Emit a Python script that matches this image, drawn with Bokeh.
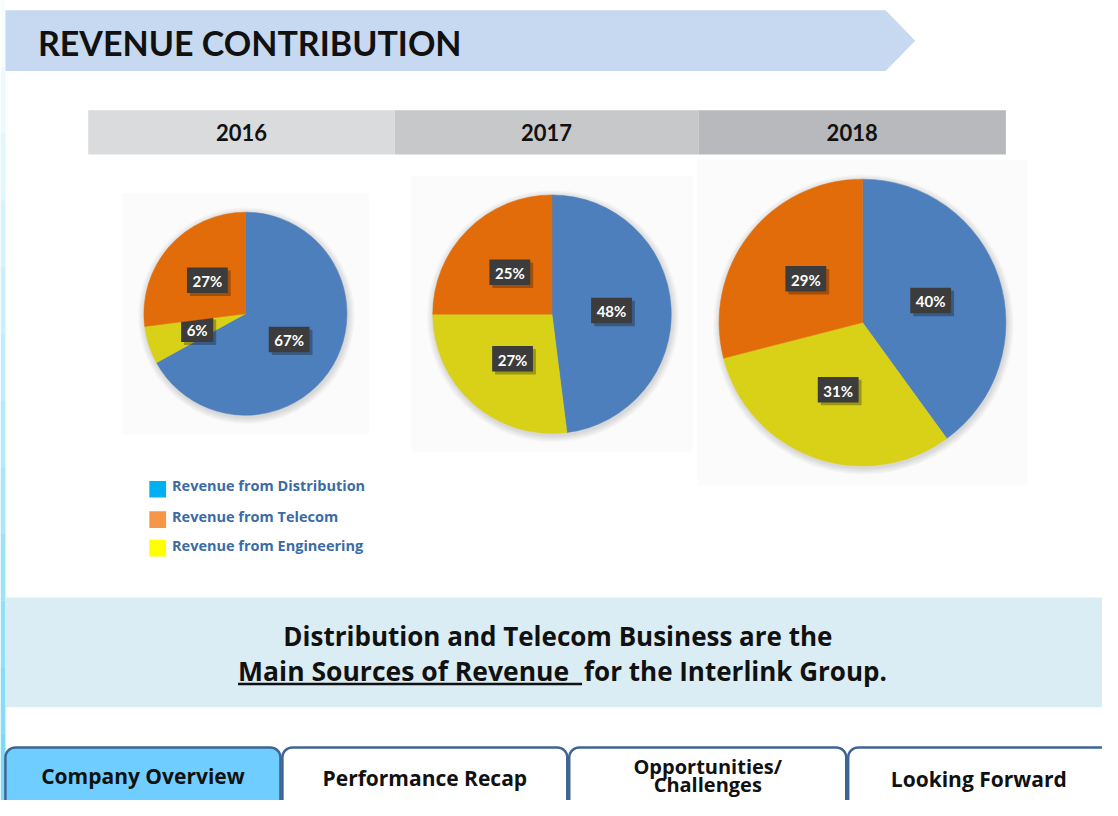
import numpy as np
from bokeh.plotting import figure
from bokeh.models import Range1d
from bokeh.embed import file_html
from bokeh.resources import INLINE
from bokeh.core.properties import value

# ---------------- data ----------------
years = ["2016", "2017", "2018"]
legend_labels = ["Revenue from  Distribution", "Revenue from Telecom", "Revenue from Engineering"]
# slices run clockwise from 12 o'clock: Distribution, Engineering, Telecom
distribution = [67, 48, 40]
engineering = [6, 27, 31]
telecom = [27, 25, 29]
slice_names = ["Distribution", "Engineering", "Telecom"]
headline_1 = "Distribution and Telecom Business are the"
headline_2a = "Main Sources of Revenue "
headline_2b = "for the Interlink Group."
tabs = ["Company Overview", "Performance Recap", "Opportunities/\nChallenges", "Looking Forward"]

# ---------------- styles / layout ----------------
pie_colors = {"Distribution": "#4D7FBC", "Engineering": "#D9D118", "Telecom": "#E36C0A"}
legend_colors = ["#00B0F0", "#F79646", "#FFFF00"]
pie_layout = [(248.5, 319.5, 103.0), (559.5, 320.0, 121.0), (874.5, 328.5, 145.5)]
year_bands = [(89, 400, "#DADBDD"), (400, 708, "#C7C8CA"), (708, 1020, "#B8B9BC")]
TITLE_FONT = "Lato"
FONT = "Open Sans"

p = figure(width=1102, height=800, x_range=Range1d(0, 1118), y_range=Range1d(816, 0),
           output_backend="svg", toolbar_location=None, min_border=0,
           x_axis_type=None, y_axis_type=None)
p.grid.visible = False
p.outline_line_color = None
p.background_fill_color = "white"
p.border_fill_color = "white"

def label(x, y, s, size, color="#111111", align="center", font=FONT):
    p.text([x], [y], text=[s], text_font=value(font), text_font_style="bold",
           text_font_size=size, text_color=color, text_align=align, text_baseline="middle")

# ---- left decorative strip ----
for k in range(12):
    p.quad(left=[0], right=[5], top=[k * 68], bottom=[(k + 1) * 68], line_color=None,
           fill_color="#5FD2F2", fill_alpha=0.05 + 0.07 * k)

# ---- header arrow band ----
p.patch([5, 898, 928, 898, 5], [10, 10, 41, 72, 72], fill_color="#C6D9F0", line_color=None)
label(38, 43, "REVENUE CONTRIBUTION", "34px", align="left", font=TITLE_FONT)

# ---- year header bars ----
for (x0, x1, c), yr in zip(year_bands, years):
    p.quad(left=[x0], right=[x1], top=[112], bottom=[157], fill_color=c, line_color=None)
    label((x0 + x1) / 2, 135, yr, "22px", font=TITLE_FONT)

# ---- pies ----
for i, (cx, cy, r) in enumerate(pie_layout):
    p.quad(left=[cx - r - 22], right=[cx + r + 22], top=[cy - r - 20], bottom=[cy + r + 20],
           fill_color="#F4F4F4", fill_alpha=0.4, line_color=None)
    for k in range(1, 8):
        p.circle([cx + 1], [cy + 2], radius=r + k, fill_color="black", fill_alpha=0.018, line_color=None)
    vals = [distribution[i], engineering[i], telecom[i]]
    total = float(sum(vals))
    cum = 0.0
    for name, v in zip(slice_names, vals):
        a0 = np.pi / 2 - 2 * np.pi * cum / total
        a1 = np.pi / 2 - 2 * np.pi * (cum + v) / total
        p.wedge([cx], [cy], radius=r, start_angle=a0, end_angle=a1, direction="clock",
                fill_color=pie_colors[name], line_color=pie_colors[name], line_width=0.5)
        am = np.pi / 2 - 2 * np.pi * (cum + v / 2) / total
        lx = cx + 0.5 * r * np.cos(am)
        ly = cy - 0.5 * r * np.sin(am)
        txt = f"{v}%"
        w = 15 + 8.8 * len(txt)
        p.quad(left=[lx - w / 2 + 3], right=[lx + w / 2 + 3], top=[ly - 13 + 3], bottom=[ly + 13 + 3],
               fill_color="black", fill_alpha=0.28, line_color=None)
        p.quad(left=[lx - w / 2], right=[lx + w / 2], top=[ly - 13], bottom=[ly + 13],
               fill_color="#3C3C3C", line_color=None)
        p.text([lx], [ly + 1], text=[txt], text_font=value("Lato"), text_font_style="bold",
               text_font_size="15px", text_color="white", text_align="center", text_baseline="middle")
        cum += v

# ---- legend ----
leg_sq = [498.5, 529.5, 558.5]
leg_txt = [495, 526, 556]
for lab, col, ys, yt in zip(legend_labels, legend_colors, leg_sq, leg_txt):
    p.quad(left=[151], right=[168], top=[ys - 8.5], bottom=[ys + 8.5], fill_color=col,
           line_color=None)
    label(174, yt, lab, "14.5px", color="#3A6BA5", align="left")

# ---- message panel ----
p.quad(left=[5], right=[1118], top=[609], bottom=[721], fill_color="#DAEDF4", line_color=None)
label(565.5, 648, headline_1, "26px")
label(241, 684, headline_2a, "26.5px", align="left")
label(592, 684, headline_2b, "26px", align="left")
p.quad(left=[241], right=[590], top=[696], bottom=[698.5], fill_color="#111111", line_color=None)

# ---- navigation tabs ----
def rounded_top(x0, x1, y0, y1, rad, n=10):
    xs, ys = [x0], [y1]
    for t in np.linspace(np.pi, 1.5 * np.pi, n):
        xs.append(x0 + rad + rad * np.cos(t)); ys.append(y0 + rad + rad * np.sin(t))
    for t in np.linspace(1.5 * np.pi, 2 * np.pi, n):
        xs.append(x1 - rad + rad * np.cos(t)); ys.append(y0 + rad + rad * np.sin(t))
    xs.append(x1); ys.append(y1)
    return xs, ys

tab_x = [(5, 284), (286, 575), (577, 858), (860, 1130)]
tab_fill = ["#6FCEFF", "white", "white", "white"]
tab_y = [[791], [793], [781, 800], [794]]
tab_size = ["21px", "21px", "20px", "21px"]
for (x0, x1), fc, lab, ty, fs in zip(tab_x, tab_fill, tabs, tab_y, tab_size):
    xs, ys = rounded_top(x0, x1, 762, 840, 10)
    p.patch(xs, ys, fill_color=fc, line_color="#3E6593", line_width=2.5)
    cxm = (x0 + min(x1, 1125)) / 2
    for ln, yy in zip(lab.split("\n"), ty):
        label(cxm, yy, ln, fs)

open("out.html", "w").write(file_html(p, INLINE))
